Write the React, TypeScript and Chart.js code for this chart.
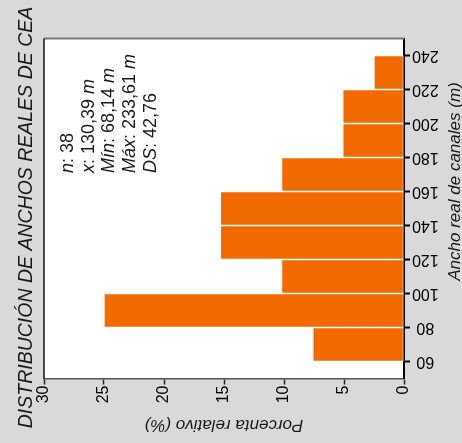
import { useEffect, useRef } from 'react';
import { Chart, registerables } from 'chart.js';

Chart.register(...registerables);

// ---- data ----
const binEdges = [60, 80, 100, 120, 140, 160, 180, 200, 220, 240];
const relativePercent = [7.6, 25, 10.2, 15.3, 15.3, 10.2, 5.1, 5.1, 2.5];
const percentTicks = [0, 5, 10, 15, 20, 25, 30];
const titleText = 'DISTRIBUCIÓN DE ANCHOS REALES DE CEA';
const widthAxisTitle = 'Ancho real de canales (m)';
const percentAxisTitle = 'Porcenta relativo (%)';
const statsLines = ['n: 38', 'x: 130,39 m', 'Mín: 68,14 m', 'Máx: 233,61 m', 'DS: 42,76'];

const FONT = '"Liberation Sans", Arial, Helvetica, sans-serif';

function drawMixed(ctx: CanvasRenderingContext2D, line: string, size: number) {
  const parts = line.match(/[A-Za-zÀ-ÿ]+|[^A-Za-zÀ-ÿ]+/g) || [];
  let cx = 0;
  for (const p of parts) {
    const word = /[A-Za-zÀ-ÿ]/.test(p);
    ctx.font = `${word ? 'italic ' : ''}${size}px ${FONT}`;
    ctx.fillText(p, cx, 0);
    cx += ctx.measureText(p).width;
  }
}

const decorPlugin = {
  id: 'decor',
  beforeDraw(chart: any) {
    const { ctx, chartArea: a } = chart;
    ctx.save();
    ctx.fillStyle = '#ffffff';
    ctx.fillRect(a.left, a.top, a.right - a.left, a.bottom - a.top);
    ctx.restore();
  },
  afterDraw(chart: any) {
    const { ctx, chartArea: a } = chart;
    ctx.save();
    // frame top & left
    ctx.strokeStyle = '#777777';
    ctx.lineWidth = 2;
    ctx.beginPath();
    ctx.moveTo(a.left, a.top);
    ctx.lineTo(a.right, a.top);
    ctx.stroke();
    ctx.strokeStyle = '#111111';
    ctx.lineWidth = 1.5;
    ctx.beginPath();
    ctx.moveTo(a.left, a.top);
    ctx.lineTo(a.left, a.bottom);
    ctx.stroke();

    ctx.fillStyle = '#1a1a1a';
    ctx.textBaseline = 'alphabetic';

    // title (reads bottom to top)
    ctx.save();
    ctx.translate(31.5, 217.5);
    ctx.rotate(-Math.PI / 2);
    ctx.textAlign = 'center';
    ctx.font = `italic 19.5px ${FONT}`;
    ctx.fillText(titleText, 0, 0);
    ctx.restore();

    // stats annotation
    statsLines.forEach((line, i) => {
      ctx.save();
      ctx.translate(a.left + 29 + i * 20.7, a.top + 134.5);
      ctx.rotate(-Math.PI / 2);
      ctx.textAlign = 'left';
      drawMixed(ctx, line, 18);
      ctx.restore();
    });

    // right axis title (reads bottom to top)
    ctx.save();
    ctx.translate(a.right + 56, 181.5);
    ctx.rotate(-Math.PI / 2);
    ctx.textAlign = 'center';
    ctx.font = `italic 17px ${FONT}`;
    ctx.fillText(widthAxisTitle, 0, 0);
    ctx.restore();

    // bottom axis title (upside down)
    ctx.save();
    ctx.translate((a.left + a.right) / 2, a.bottom + 41);
    ctx.rotate(Math.PI);
    ctx.textAlign = 'center';
    ctx.font = `italic 17px ${FONT}`;
    ctx.fillText(percentAxisTitle, 0, 0);
    ctx.restore();

    ctx.restore();
  },
};

export default function App() {
  const ref = useRef<HTMLCanvasElement | null>(null);

  useEffect(() => {
    if (!ref.current) return;
    Chart.defaults.font.family = FONT;
    const data = relativePercent.map((v, i) => ({
      x: v,
      y: (binEdges[i] + binEdges[i + 1]) / 2,
    }));
    const chart = new Chart(ref.current, {
      type: 'bar',
      data: {
        datasets: [
          {
            data,
            backgroundColor: '#f06a00',
            borderColor: 'rgba(255,255,255,0.6)',
            borderWidth: 1,
            borderSkipped: false,
            barPercentage: 1,
            categoryPercentage: 1,
          } as any,
        ],
      },
      options: {
        indexAxis: 'y',
        animation: false,
        responsive: false,
        maintainAspectRatio: false,
        layout: { padding: { left: 44, top: 38.5, right: 0, bottom: 0 } },
        plugins: {
          legend: { display: false },
          title: { display: false },
          tooltip: { enabled: false },
        },
        scales: {
          x: {
            type: 'linear',
            position: 'bottom',
            reverse: true,
            offset: false,
            min: 0,
            max: 30,
            afterBuildTicks: (s: any) => {
              s.ticks = percentTicks.map((v) => ({ value: v }));
            },
            afterFit: (s: any) => {
              s.height = 64.5;
            },
            grid: {
              drawOnChartArea: false,
              drawTicks: true,
              offset: false,
              tickLength: 6,
              tickColor: '#222222',
              tickWidth: 1.5,
            },
            border: { display: true, color: '#555555', width: 1.5 },
            ticks: {
              minRotation: 90,
              maxRotation: 90,
              padding: 1,
              color: '#000000',
              font: { size: 16 },
              autoSkip: false,
            },
          },
          y: {
            type: 'linear',
            position: 'right',
            offset: false,
            min: 50,
            max: 250,
            afterBuildTicks: (s: any) => {
              s.ticks = binEdges.map((v) => ({ value: v }));
            },
            afterFit: (s: any) => {
              s.width = 58;
            },
            grid: {
              drawOnChartArea: false,
              drawTicks: true,
              offset: false,
              tickLength: 6,
              tickColor: '#000000',
              tickWidth: 2,
            },
            border: { display: true, color: '#000000', width: 2 },
            ticks: {
              minRotation: 180,
              maxRotation: 180,
              crossAlign: 'center',
              padding: 2,
              color: '#000000',
              font: { size: 16 },
              autoSkip: false,
            },
          },
        },
      } as any,
      plugins: [decorPlugin],
    });
    return () => chart.destroy();
  }, []);

  return (
    <div
      style={{
        position: 'fixed',
        left: 0,
        top: 0,
        width: 462,
        height: 443,
        background: '#d9d9d9',
        overflow: 'hidden',
      }}
    >
      <canvas ref={ref} width={462} height={443} style={{ display: 'block' }} />
    </div>
  );
}
